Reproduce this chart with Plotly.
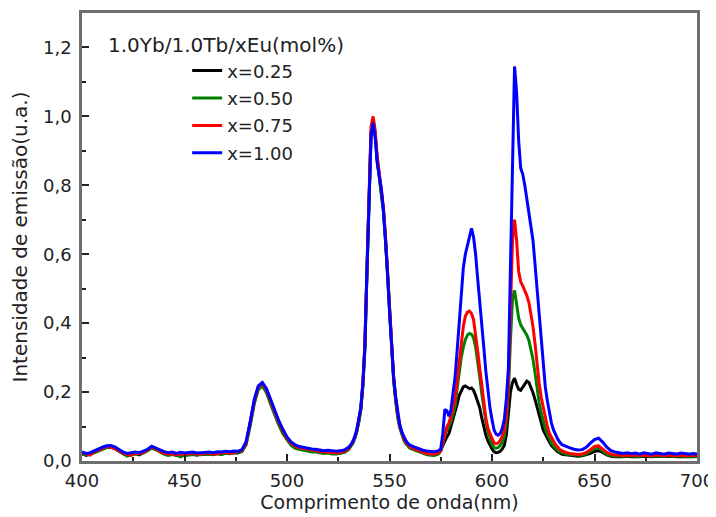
import plotly.graph_objects as go

# Wavelength sampling grid (nm)
wavelength = (list(range(400, 531, 2)) + list(range(531, 561, 1)) +
              list(range(562, 575, 2)) + list(range(575, 636, 1)) +
              list(range(636, 701, 2)))

series_names = ["x=0.25", "x=0.50", "x=0.75", "x=1.00"]
series_colors = ["#000000", "#008000", "#ff0000", "#0000ff"]

x025 = [
    0.022,0.016,0.02,0.026,0.031,0.036,0.04,0.041,0.037,0.029,
    0.021,0.017,0.019,0.022,0.018,0.024,0.031,0.039,0.034,0.027,
    0.022,0.018,0.021,0.016,0.019,0.015,0.019,0.021,0.017,0.02,
    0.019,0.021,0.018,0.022,0.02,0.023,0.021,0.024,0.023,0.028,
    0.048,0.105,0.17,0.21,0.22,0.2,0.168,0.138,0.108,0.083,
    0.063,0.048,0.04,0.036,0.033,0.031,0.028,0.028,0.026,0.024,
    0.025,0.022,0.021,0.023,0.026,0.034,
    0.042,0.052,0.066,0.086,0.115,0.15,0.22,0.33,0.55,0.78,
    0.955,0.99,0.95,0.875,0.83,0.79,0.73,0.65,0.55,0.43,
    0.32,0.24,0.18,0.13,0.1,0.078,0.063,0.053,0.045,0.039,
    0.034,0.029,0.024,0.021,0.019,0.018,0.022,
    0.03,0.045,0.06,0.07,0.08,0.1,0.12,0.14,0.165,0.19,
    0.205,0.215,0.218,0.215,0.21,0.212,0.205,0.19,0.172,0.155,
    0.125,0.095,0.075,0.058,0.045,0.035,0.027,0.024,0.025,0.028,
    0.035,0.045,0.075,0.14,0.2,0.228,0.24,0.222,0.208,0.205,
    0.215,0.225,0.232,0.228,0.215,0.198,0.178,0.155,0.135,0.11,
    0.09,0.078,0.065,0.055,0.045,0.038,0.032,0.027,0.024,0.02,
    0.019,
    0.018,0.016,0.015,0.014,0.015,0.018,0.022,0.028,0.03,0.025,
    0.018,0.014,0.012,0.013,0.012,0.014,0.012,0.013,0.012,0.014,
    0.013,0.012,0.014,0.013,0.012,0.013,0.014,0.012,0.013,0.012,
    0.013,0.012,0.013,
]

x050 = [
    0.02,0.018,0.022,0.024,0.029,0.035,0.039,0.04,0.036,0.028,
    0.02,0.014,0.018,0.02,0.02,0.023,0.03,0.037,0.033,0.026,
    0.02,0.016,0.019,0.018,0.012,0.017,0.018,0.02,0.019,0.018,
    0.02,0.019,0.02,0.021,0.019,0.022,0.022,0.023,0.024,0.027,
    0.047,0.1,0.165,0.207,0.218,0.198,0.165,0.134,0.104,0.079,
    0.06,0.045,0.037,0.033,0.031,0.029,0.026,0.026,0.024,0.022,
    0.023,0.02,0.02,0.022,0.025,0.033,
    0.04,0.05,0.064,0.084,0.112,0.147,0.215,0.325,0.545,0.775,
    0.95,0.985,0.948,0.872,0.826,0.786,0.726,0.645,0.545,0.425,
    0.315,0.235,0.175,0.126,0.097,0.075,0.06,0.05,0.043,0.037,
    0.032,0.027,0.022,0.019,0.017,0.016,0.021,
    0.03,0.05,0.075,0.09,0.1,0.115,0.135,0.16,0.21,0.26,
    0.3,0.33,0.352,0.365,0.37,0.368,0.358,0.33,0.29,0.245,
    0.195,0.15,0.115,0.085,0.065,0.048,0.04,0.037,0.039,0.045,
    0.055,0.07,0.11,0.2,0.35,0.47,0.495,0.455,0.415,0.395,
    0.385,0.378,0.365,0.35,0.325,0.295,0.255,0.21,0.17,0.14,
    0.115,0.095,0.078,0.063,0.052,0.044,0.036,0.031,0.027,0.024,
    0.022,
    0.02,0.018,0.017,0.016,0.017,0.021,0.028,0.036,0.038,0.03,
    0.02,0.016,0.014,0.015,0.013,0.015,0.014,0.015,0.013,0.016,
    0.014,0.013,0.015,0.014,0.013,0.015,0.014,0.013,0.015,0.013,
    0.014,0.013,0.014,
]

x075 = [
    0.024,0.02,0.017,0.027,0.032,0.038,0.042,0.04,0.035,0.03,
    0.022,0.019,0.016,0.023,0.021,0.025,0.032,0.04,0.036,0.028,
    0.023,0.02,0.02,0.018,0.021,0.019,0.02,0.023,0.02,0.021,
    0.021,0.023,0.02,0.022,0.022,0.025,0.022,0.025,0.026,0.03,
    0.05,0.108,0.172,0.215,0.225,0.205,0.172,0.142,0.112,0.087,
    0.066,0.051,0.043,0.038,0.036,0.033,0.031,0.03,0.029,0.026,
    0.027,0.024,0.023,0.025,0.028,0.036,
    0.044,0.054,0.068,0.088,0.118,0.153,0.225,0.34,0.56,0.79,
    0.97,1.0,0.96,0.885,0.838,0.798,0.738,0.658,0.558,0.438,
    0.326,0.245,0.184,0.134,0.103,0.08,0.065,0.055,0.047,0.041,
    0.035,0.03,0.026,0.022,0.02,0.02,0.024,
    0.03,0.055,0.08,0.1,0.11,0.13,0.155,0.18,0.235,0.29,
    0.345,0.39,0.42,0.432,0.435,0.428,0.41,0.37,0.32,0.27,
    0.215,0.165,0.125,0.095,0.08,0.062,0.052,0.05,0.052,0.06,
    0.072,0.09,0.13,0.23,0.45,0.64,0.7,0.64,0.55,0.52,
    0.508,0.495,0.48,0.46,0.43,0.39,0.34,0.28,0.225,0.185,
    0.155,0.125,0.1,0.08,0.067,0.058,0.048,0.04,0.034,0.03,
    0.027,
    0.025,0.022,0.02,0.019,0.02,0.025,0.033,0.042,0.044,0.035,
    0.025,0.02,0.017,0.018,0.015,0.017,0.016,0.018,0.015,0.017,
    0.016,0.015,0.018,0.016,0.015,0.017,0.016,0.015,0.017,0.015,
    0.016,0.015,0.016,
]

x100 = [
    0.026,0.022,0.024,0.03,0.035,0.04,0.044,0.045,0.041,0.033,
    0.026,0.022,0.024,0.026,0.024,0.028,0.034,0.043,0.038,0.031,
    0.027,0.024,0.026,0.022,0.025,0.023,0.024,0.026,0.023,0.025,
    0.025,0.026,0.024,0.027,0.026,0.028,0.027,0.029,0.028,0.033,
    0.055,0.112,0.178,0.218,0.228,0.21,0.178,0.147,0.117,0.092,
    0.07,0.055,0.047,0.042,0.039,0.037,0.035,0.034,0.032,0.03,
    0.031,0.029,0.028,0.03,0.032,0.04,
    0.046,0.056,0.07,0.09,0.12,0.155,0.225,0.335,0.55,0.77,
    0.94,0.982,0.94,0.865,0.825,0.79,0.73,0.652,0.552,0.435,
    0.325,0.245,0.186,0.137,0.106,0.084,0.069,0.059,0.051,0.046,
    0.041,0.036,0.032,0.029,0.027,0.027,0.03,
    0.035,0.08,0.15,0.145,0.13,0.15,0.2,0.245,0.32,0.39,
    0.48,0.56,0.6,0.625,0.65,0.675,0.65,0.6,0.53,0.47,
    0.4,0.33,0.26,0.2,0.155,0.12,0.09,0.078,0.075,0.08,
    0.095,0.12,0.18,0.27,0.55,0.93,1.145,1.07,0.93,0.85,
    0.832,0.8,0.76,0.72,0.68,0.64,0.57,0.5,0.42,0.34,
    0.275,0.215,0.175,0.14,0.11,0.09,0.075,0.064,0.055,0.048,
    0.045,
    0.042,0.038,0.034,0.032,0.033,0.04,0.052,0.062,0.066,0.055,
    0.04,0.03,0.026,0.025,0.022,0.024,0.021,0.023,0.02,0.024,
    0.022,0.02,0.024,0.021,0.02,0.023,0.022,0.02,0.023,0.021,
    0.02,0.022,0.02,
]

series_values = [x025, x050, x075, x100]

legend_title = "1.0Yb/1.0Tb/xEu(mol%)"
x_title = "Comprimento de onda(nm)"
y_title = "Intensidade de emissão(u.a.)"

FONT = "DejaVu Sans"
TXT = "#222222"

fig = go.Figure()
for name, color, vals in zip(series_names, series_colors, series_values):
    fig.add_trace(go.Scatter(
        x=wavelength, y=vals, mode="lines", name=name,
        legendgroup=name,
        line=dict(color=color, width=3),
    ))

axis_common = dict(
    showline=True, linecolor="#6e6e6e", linewidth=2.5, mirror=True,
    ticks="inside", tickcolor="#222222", tickwidth=1.5, ticklen=7,
    showgrid=False, zeroline=False, automargin=False,
    tickfont=dict(family=FONT, size=18, color=TXT),
)

# The page body has an 8px default margin; the figure size and margins
# compensate so the plot area sits where it does in the reference.
fig.update_layout(
    width=708, height=509,
    margin=dict(l=74, r=19, t=5, b=56),
    paper_bgcolor="white", plot_bgcolor="white",
    separators=",.",
    font=dict(family=FONT, color=TXT),
    xaxis=dict(
        range=[400, 700], tick0=400, dtick=50,
        minor=dict(dtick=25, ticks="inside", ticklen=4, tickcolor="#222222", tickwidth=1.5),
        title=dict(text=x_title, font=dict(family=FONT, size=19, color=TXT), standoff=0),
        ticklabelstandoff=2,
        **axis_common,
    ),
    yaxis=dict(
        range=[0, 1.3], tick0=0, dtick=0.2, tickformat=".1f",
        minor=dict(dtick=0.1, ticks="inside", ticklen=4, tickcolor="#222222", tickwidth=1.5),
        title=dict(text=y_title, font=dict(family=FONT, size=20, color=TXT), standoff=11),
        ticklabelstandoff=4,
        **axis_common,
    ),
    legend=dict(
        x=0.171, y=0.912, xanchor="left", yanchor="top",
        bgcolor="rgba(0,0,0,0)", borderwidth=0,
        font=dict(family=FONT, size=18, color=TXT),
        traceorder="grouped", tracegroupgap=1,
    ),
    annotations=[dict(
        text=legend_title, xref="paper", yref="paper",
        x=0.0385, y=0.929, xanchor="left", yanchor="middle",
        showarrow=False, font=dict(family=FONT, size=20, color=TXT),
    )],
    showlegend=True,
)

fig.write_html("out.html")
